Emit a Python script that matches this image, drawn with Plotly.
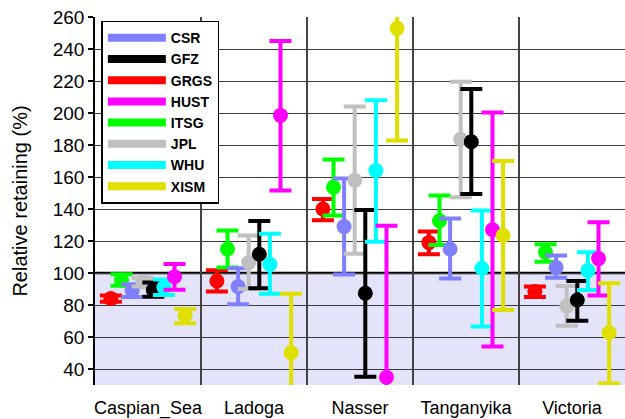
import plotly.graph_objects as go

categories = ["Caspian_Sea", "Ladoga", "Nasser", "Tanganyika", "Victoria"]

# series: value, upper bound, lower bound (relative retaining, %)
series_names = ["GRGS", "ITSG", "CSR", "JPL", "GFZ", "WHU", "HUST", "XISM"]
legend_order = ["CSR", "GFZ", "GRGS", "HUST", "ITSG", "JPL", "WHU", "XISM"]
colors = {
    "CSR": "#8080ff", "GFZ": "#000000", "GRGS": "#ff0000", "HUST": "#ff00ff",
    "ITSG": "#00ff00", "JPL": "#c0c0c0", "WHU": "#00ffff", "XISM": "#dfdf00",
}

CSR_val = [89.0, 91.5, 129.0, 115.0, 103.5]
CSR_hi = [93.0, 103.0, 159.0, 134.0, 111.0]
CSR_lo = [85.0, 80.5, 99.0, 96.5, 97.0]

GFZ_val = [89.4, 111.7, 87.3, 182.0, 83.1]
GFZ_hi = [94.0, 132.5, 139.4, 215.0, 95.0]
GFZ_lo = [85.2, 90.4, 35.2, 149.4, 70.2]

GRGS_val = [84.0, 95.0, 140.0, 119.0, 88.4]
GRGS_hi = [86.0, 101.7, 146.3, 126.0, 91.5]
GRGS_lo = [82.0, 88.4, 133.0, 111.7, 85.0]

HUST_val = [97.7, 198.5, 34.8, 127.0, 109.0]
HUST_hi = [105.6, 245.0, 129.5, 200.3, 131.7]
HUST_lo = [89.5, 151.5, -60.0, 54.0, 86.0]

ITSG_val = [95.6, 115.0, 153.6, 132.7, 113.0]
ITSG_hi = [99.2, 126.5, 171.0, 148.4, 118.0]
ITSG_lo = [92.1, 103.4, 136.0, 117.5, 107.1]

JPL_val = [94.6, 106.5, 158.0, 183.6, 79.3]
JPL_hi = [97.1, 123.4, 204.0, 219.6, 91.9]
JPL_lo = [91.5, 90.0, 112.0, 147.3, 67.1]

WHU_val = [90.9, 105.4, 164.0, 103.0, 101.5]
WHU_hi = [96.0, 124.6, 208.0, 139.0, 113.0]
WHU_lo = [86.3, 87.0, 119.6, 66.5, 89.4]

XISM_val = [73.4, 50.2, 252.9, 123.4, 62.7]
XISM_hi = [77.5, 87.0, 323.0, 170.0, 93.6]
XISM_lo = [68.6, 13.4, 182.8, 76.9, 31.0]

data = {
    "CSR": (CSR_val, CSR_hi, CSR_lo),
    "GFZ": (GFZ_val, GFZ_hi, GFZ_lo),
    "GRGS": (GRGS_val, GRGS_hi, GRGS_lo),
    "HUST": (HUST_val, HUST_hi, HUST_lo),
    "ITSG": (ITSG_val, ITSG_hi, ITSG_lo),
    "JPL": (JPL_val, JPL_hi, JPL_lo),
    "WHU": (WHU_val, WHU_hi, WHU_lo),
    "XISM": (XISM_val, XISM_hi, XISM_lo),
}

y_ticks = [40, 60, 80, 100, 120, 140, 160, 180, 200, 220, 240, 260]

fig = go.Figure()
n = len(series_names)
for slot, name in enumerate(series_names):
    val, hi, lo = data[name]
    off = (slot - (n - 1) / 2) * 0.1
    xs = [i + off for i in range(len(categories))]
    fig.add_trace(go.Scatter(
        x=xs, y=val, mode="markers", showlegend=False,
        marker=dict(size=15, color=colors[name]),
        error_y=dict(type="data", symmetric=False,
                     array=[h - v for h, v in zip(hi, val)],
                     arrayminus=[v - l for v, l in zip(val, lo)],
                     color=colors[name], thickness=4, width=11),
    ))

for name in legend_order:
    fig.add_trace(go.Scatter(
        x=[None], y=[None], mode="lines", name=name,
        line=dict(color=colors[name], width=8),
    ))

fig.add_shape(type="rect", xref="paper", yref="y", x0=0, x1=1, y0=0, y1=100,
              fillcolor="#e3e3fa", line=dict(width=0), layer="below")
fig.add_shape(type="line", xref="paper", yref="y", x0=0, x1=1, y0=100, y1=100,
              line=dict(color="black", width=2.5), layer="between")

fig.update_layout(
    width=625, height=419,
    margin=dict(l=95, r=0, t=17, b=32),
    plot_bgcolor="white", paper_bgcolor="white",
    font=dict(family="Arial, Liberation Sans, sans-serif", color="black"),
    showlegend=True,
    legend=dict(x=0.012, y=0.99, xanchor="left", yanchor="top",
                bgcolor="white", bordercolor="black", borderwidth=1.5,
                font=dict(size=14, weight="bold"), tracegroupgap=0,
                itemwidth=58),
    xaxis=dict(range=[-0.5, 4.5], tickmode="array",
               tickvals=list(range(len(categories))), ticktext=categories,
               showgrid=False, zeroline=False, ticks="outside", ticklen=6,
               tickcolor="rgba(0,0,0,0)",
               tickfont=dict(size=18),
               minor=dict(tickmode="array", tickvals=[0.5, 1.5, 2.5, 3.5],
                          showgrid=True, gridcolor="#444444", gridwidth=1.5)),
    yaxis=dict(range=[30, 260], tickmode="array", tickvals=y_ticks,
               showgrid=True, gridcolor="#3a3a3a", gridwidth=1.2,
               zeroline=False, showline=True, linecolor="black", linewidth=1.5,
               ticks="outside", ticklen=5, tickcolor="black", tickwidth=1.5,
               tickfont=dict(size=19),
               title=dict(text="Relative retaining (%)", font=dict(size=20),
                          standoff=20)),
)

fig.write_html("out.html", config={"displayModeBar": False})

# remove the default page margin so the figure sits at the window's corner
with open("out.html", encoding="utf-8") as f:
    html = f.read()
html = html.replace("<head>", "<head><style>body{margin:0;overflow:hidden}</style>", 1)
with open("out.html", "w", encoding="utf-8") as f:
    f.write(html)
